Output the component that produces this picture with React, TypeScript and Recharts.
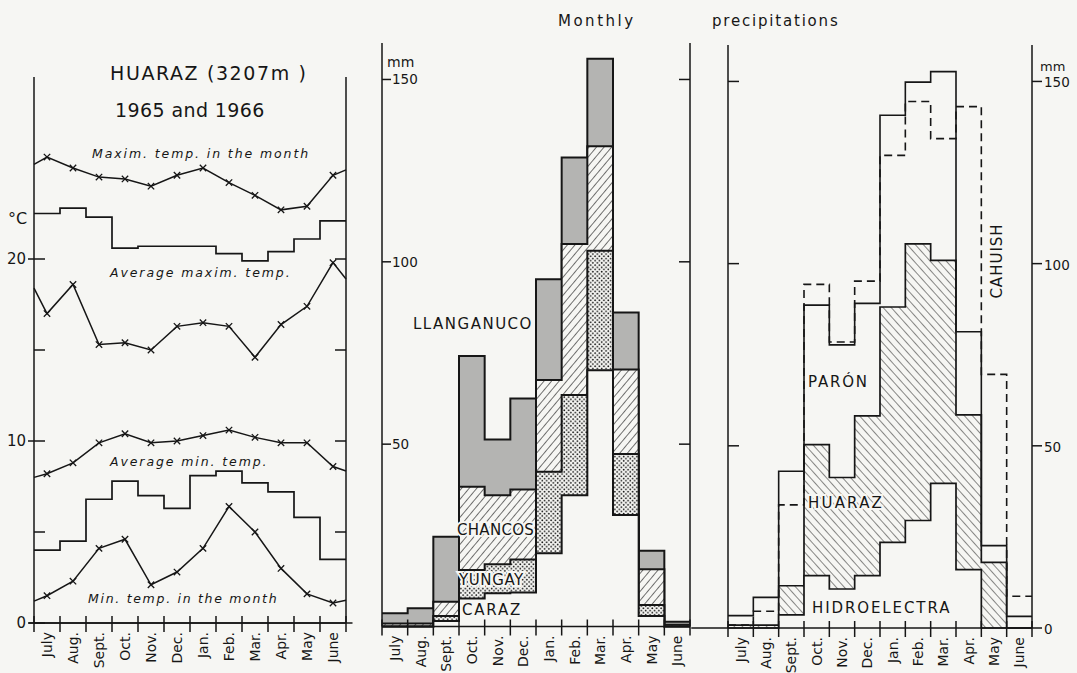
import React from "react";
import { ComposedChart, Line, Area, XAxis, YAxis, ReferenceLine } from "recharts";

const W = 1077;
const H = 673;
const INK = "#161616";
const PAPER = "#f6f6f3";
const FONT = "DejaVu Sans, sans-serif";

const MONTHS = ["July", "Aug.", "Sept.", "Oct.", "Nov.", "Dec.", "Jan.", "Feb.", "Mar.", "Apr.", "May", "June"];

// Huaraz temperatures, deg C (x-marked lines have a value at each edge too)
const maxInMonth = [25.6, 25.0, 24.5, 24.4, 24.0, 24.6, 25.0, 24.2, 23.5, 22.7, 22.9, 24.6];
const maxInMonthEnds = [25.2, 24.9];
const avgMax = [22.5, 22.8, 22.3, 20.6, 20.7, 20.7, 20.7, 20.3, 19.9, 20.4, 21.1, 22.1];
const upperMid = [17.0, 18.6, 15.3, 15.4, 15.0, 16.3, 16.5, 16.3, 14.6, 16.4, 17.4, 19.8];
const upperMidEnds = [18.4, 18.9];
const avgMin = [8.2, 8.8, 9.9, 10.4, 9.9, 10.0, 10.3, 10.6, 10.2, 9.9, 9.9, 8.6];
const avgMinEnds = [8.0, 8.35];
const lowerStep = [4.0, 4.5, 6.8, 7.8, 7.0, 6.3, 8.1, 8.35, 7.7, 7.2, 5.8, 3.5];
const minInMonth = [1.5, 2.3, 4.1, 4.6, 2.1, 2.8, 4.1, 6.4, 5.0, 3.0, 1.6, 1.1];
const minInMonthEnds = [1.2, 1.25];

// monthly precipitation, mm (middle panel)
const llanganuco = [3.6, 5.0, 24.6, 74.2, 51.3, 62.5, 95.2, 128.6, 155.7, 86.1, 20.8, 1.3];
const chancos = [0.8, 0.8, 6.8, 38.3, 36.0, 37.6, 67.6, 104.9, 131.7, 70.5, 15.7, 0.5];
const yungay = [0, 0, 2.9, 15.5, 17.1, 18.4, 42.4, 63.5, 103.0, 47.3, 5.9, 0];
const caraz = [0, 0, 1.5, 7.7, 9.1, 9.3, 20.1, 36.0, 70.3, 30.6, 2.9, 0];

// monthly precipitation, mm (right panel)
const paron = [3.4, 8.4, 43.0, 88.6, 77.7, 89.1, 140.7, 149.8, 152.7, 81.3, 22.6, 3.2];
const cahuish = [0.8, 4.6, 33.8, 94.3, 78.5, 95.2, 129.7, 144.5, 134.3, 143.1, 69.6, 8.7];
const huaraz = [0.8, 0.8, 11.6, 50.3, 41.3, 58.2, 88.1, 105.4, 100.9, 58.5, 18.0, 0];
const hidroelectra = [0, 0, 3.6, 14.4, 10.7, 14.4, 23.5, 29.5, 39.7, 16.0, 0, 0];

const BOUNDS = Array.from({ length: 13 }, (_, i) => i);
const CENTERS = MONTHS.map((_, i) => i + 0.5);

type Row = { [k: string]: number | undefined };

// one row per month boundary (step series) plus one per month centre (x-marked lines)
function tempRows(): Row[] {
  const rows: Row[] = [];
  for (let i = 0; i <= 12; i++) {
    const j = Math.min(i, 11);
    const r: Row = { x: i, avgMax: avgMax[j], lowerStep: lowerStep[j] };
    if (i === 0 || i === 12) {
      const e = i === 0 ? 0 : 1;
      r.maxIn = maxInMonthEnds[e];
      r.upperMid = upperMidEnds[e];
      r.avgMin = avgMinEnds[e];
      r.minIn = minInMonthEnds[e];
    }
    rows.push(r);
    if (i < 12) {
      rows.push({ x: i + 0.5, maxIn: maxInMonth[i], upperMid: upperMid[i], avgMin: avgMin[i], minIn: minInMonth[i] });
    }
  }
  return rows;
}

function stepRows(series: { [k: string]: number[] }): Row[] {
  return BOUNDS.map((i) => {
    const r: Row = { x: i };
    Object.keys(series).forEach((k) => (r[k] = series[k][Math.min(i, 11)]));
    return r;
  });
}

const tempData = tempRows();
const midData = stepRows({ llanganuco, chancos, yungay, caraz });
const rightData = stepRows({ paron, cahuish, huaraz, hidroelectra });

// plot rectangle -> chart margins (axes take 1px each: 1 left, 1 right, 2 below)
function frame(x0: number, x1: number, y0: number, y1: number) {
  return { left: x0 - 1, right: W - x1 - 1, top: y0, bottom: H - y1 - 2 };
}

const Cross = (p: any) => {
  const { cx, cy, payload, dataKey, index } = p;
  if (cx == null || cy == null || payload[dataKey] == null || payload.x % 1 === 0) return <g key={index} />;
  const s = 3.2;
  return (
    <path
      key={index}
      d={`M${cx - s},${cy - s}L${cx + s},${cy + s}M${cx + s},${cy - s}L${cx - s},${cy + s}`}
      stroke={INK}
      strokeWidth={1.3}
      fill="none"
    />
  );
};

const BoundaryTick = ({ x, y }: any) => (
  <line x1={x} x2={x} y1={y - 7} y2={y + 9} stroke={INK} strokeWidth={1.5} />
);

const MonthTick = ({ x, y, payload }: any) => (
  <text
    transform={`translate(${x},${y + 8}) rotate(-90)`}
    textAnchor="end"
    dominantBaseline="central"
    fontSize={14}
    fontFamily={FONT}
    fill={INK}
  >
    {MONTHS[Math.floor(payload.value)]}
  </text>
);

const TempTickLeft = ({ x, y, payload }: any) => {
  const lab = payload.value % 10 === 0;
  return (
    <g>
      <line x1={lab ? x - 6 : x} x2={x + 11} y1={y} y2={y} stroke={INK} strokeWidth={1.5} />
      {lab && (
        <text x={x - 8} y={y} textAnchor="end" dominantBaseline="central" fontSize={15} fontFamily={FONT} fill={INK}>
          {payload.value}
        </text>
      )}
    </g>
  );
};

const InTickRight = ({ x, y }: any) => <line x1={x - 11} x2={x} y1={y} y2={y} stroke={INK} strokeWidth={1.5} />;
const InTickLeft = ({ x, y }: any) => <line x1={x} x2={x + 11} y1={y} y2={y} stroke={INK} strokeWidth={1.5} />;

const MmTickInside = ({ x, y, payload }: any) => (
  <g>
    <line x1={x} x2={x + 9} y1={y} y2={y} stroke={INK} strokeWidth={1.5} />
    <text x={x + 10} y={y} dominantBaseline="central" fontSize={13.5} fontFamily={FONT} fill={INK}>
      {payload.value}
    </text>
  </g>
);

const MmTickOutside = ({ x, y, payload }: any) => (
  <g>
    <line x1={x} x2={x + 10} y1={y} y2={y} stroke={INK} strokeWidth={1.5} />
    <text x={x + 12} y={y + 1} dominantBaseline="central" fontSize={13.5} fontFamily={FONT} fill={INK}>
      {payload.value}
    </text>
  </g>
);

const axisLine = { stroke: INK, strokeWidth: 1.5 };
const abs: React.CSSProperties = { position: "absolute", left: 0, top: 0 };

function MonthAxes() {
  return [
    <XAxis
      key="b"
      xAxisId="b"
      dataKey="x"
      type="number"
      domain={[0, 12]}
      ticks={BOUNDS}
      interval={0}
      height={1}
      tickSize={0}
      tickMargin={0}
      tickLine={false}
      axisLine={axisLine}
      tick={<BoundaryTick />}
    />,
    <XAxis
      key="m"
      xAxisId="m"
      dataKey="x"
      type="number"
      domain={[0, 12]}
      ticks={CENTERS}
      interval={0}
      height={1}
      tickSize={0}
      tickMargin={0}
      tickLine={false}
      axisLine={false}
      tick={<MonthTick />}
    />,
  ];
}

function TempPanel() {
  return (
    <div style={abs}>
      <ComposedChart width={W} height={H} data={tempData} margin={frame(34, 346, 77, 623)}>
        {MonthAxes()}
        <YAxis yAxisId="l" type="number" domain={[0, 30]} ticks={[0, 5, 10, 15, 20]} width={1} tickSize={0} tickMargin={0}
          tickLine={false} axisLine={axisLine} tick={<TempTickLeft />} interval={0} />
        <YAxis yAxisId="r" dataKey="avgMax" orientation="right" type="number" domain={[0, 30]} ticks={[5, 10, 15, 20]}
          width={1} tickSize={0} tickMargin={0} tickLine={false} axisLine={axisLine} tick={<InTickRight />} interval={0} />
        <ReferenceLine xAxisId="b" yAxisId="l" segment={[{ x: -0.2, y: 0 }, { x: 12.25, y: 0 }]} stroke={INK}
          strokeWidth={1.5} ifOverflow="visible" />
        {["maxIn", "upperMid", "avgMin", "minIn"].map((k) => (
          <Line key={k} xAxisId="b" yAxisId="l" dataKey={k} type="linear" stroke={INK} strokeWidth={1.5}
            connectNulls dot={Cross} activeDot={false} isAnimationActive={false} />
        ))}
        {["avgMax", "lowerStep"].map((k) => (
          <Line key={k} xAxisId="b" yAxisId="l" dataKey={k} type="stepAfter" stroke={INK} strokeWidth={1.7}
            connectNulls dot={false} activeDot={false} isAnimationActive={false} />
        ))}
      </ComposedChart>
    </div>
  );
}

function MiddlePanel() {
  const area = { xAxisId: "b", yAxisId: "l", type: "stepAfter" as const, stroke: INK, strokeWidth: 2, fillOpacity: 1,
    dot: false, activeDot: false, isAnimationActive: false };
  return (
    <div style={abs}>
      <ComposedChart width={W} height={H} data={midData} margin={frame(382, 690, 43, 626.5)}>
        {MonthAxes()}
        <YAxis yAxisId="l" type="number" domain={[0, 160]} ticks={[50, 100, 150]} width={1} tickSize={0} tickMargin={0}
          tickLine={false} axisLine={axisLine} tick={<MmTickInside />} interval={0} />
        <YAxis yAxisId="r" dataKey="llanganuco" orientation="right" type="number" domain={[0, 160]} ticks={[50, 100, 150]}
          width={1} tickSize={0} tickMargin={0} tickLine={false} axisLine={axisLine} tick={<InTickRight />} interval={0} />
        <Area {...area} dataKey="llanganuco" fill="url(#gray)" />
        <Area {...area} dataKey="chancos" fill="url(#hatchUp)" />
        <Area {...area} dataKey="yungay" fill="url(#dots)" />
        <Area {...area} dataKey="caraz" fill={PAPER} />
      </ComposedChart>
    </div>
  );
}

function RightPanel() {
  const area = { xAxisId: "b", yAxisId: "l", type: "stepAfter" as const, stroke: INK, strokeWidth: 1.7, fillOpacity: 1,
    dot: false, activeDot: false, isAnimationActive: false };
  return (
    <div style={abs}>
      <ComposedChart width={W} height={H} data={rightData} margin={frame(728, 1032, 45, 628)}>
        {MonthAxes()}
        <YAxis yAxisId="l" type="number" domain={[0, 160]} ticks={[50, 100, 150]} width={1} tickSize={0} tickMargin={0}
          tickLine={false} axisLine={axisLine} tick={<InTickLeft />} interval={0} />
        <YAxis yAxisId="r" dataKey="paron" orientation="right" type="number" domain={[0, 160]} ticks={[0, 50, 100, 150]}
          width={1} tickSize={0} tickMargin={0} tickLine={false} axisLine={axisLine} tick={<MmTickOutside />} interval={0} />
        <ReferenceLine xAxisId="b" yAxisId="l" segment={[{ x: -1.45, y: 0 }, { x: 0, y: 0 }]} stroke={INK}
          strokeWidth={1.5} ifOverflow="visible" />
        <Area {...area} dataKey="huaraz" fill="url(#hatchDown)" />
        <Area {...area} dataKey="hidroelectra" fill={PAPER} />
        <Line xAxisId="b" yAxisId="l" dataKey="paron" type="stepAfter" stroke={INK} strokeWidth={1.6}
          dot={false} activeDot={false} isAnimationActive={false} />
        <Line xAxisId="b" yAxisId="l" dataKey="cahuish" type="stepAfter" stroke={INK} strokeWidth={1.6}
          strokeDasharray="8 5" dot={false} activeDot={false} isAnimationActive={false} />
      </ComposedChart>
    </div>
  );
}

const T = (p: any) => {
  const { x, y, children, size = 15, italic, ls = 0, knock, rotate, anchor = "start" } = p;
  return (
    <text
      x={rotate ? 0 : x}
      y={rotate ? 0 : y}
      transform={rotate ? `translate(${x},${y}) rotate(-90)` : undefined}
      textAnchor={anchor}
      dominantBaseline="central"
      fontSize={size}
      fontStyle={italic ? "italic" : "normal"}
      letterSpacing={ls}
      fontFamily={FONT}
      fill={INK}
      stroke={knock ? PAPER : "none"}
      strokeWidth={knock ? 4 : 0}
      paintOrder="stroke"
    >
      {children}
    </text>
  );
};

function Labels() {
  return (
    <svg width={W} height={H} style={abs}>
      <T x={558} y={21} size={15} ls={2.5}>Monthly</T>
      <T x={712} y={21} size={15} ls={1.8}>precipitations</T>

      <T x={110} y={73} size={19} ls={1.6}>HUARAZ (3207m )</T>
      <T x={115} y={110} size={19} ls={0.4}>1965 and 1966</T>
      <T x={8} y={218} size={16}>°C</T>
      <T x={92} y={153} size={12.5} italic ls={1.9}>Maxim. temp. in the month</T>
      <T x={110} y={272} size={12.5} italic ls={1.9}>Average maxim. temp.</T>
      <T x={110} y={461} size={12.5} italic ls={1.9}>Average min. temp.</T>
      <T x={88} y={598} size={12.5} italic ls={1.7}>Min. temp. in the month</T>

      <T x={387} y={62} size={14}>mm</T>
      <T x={413} y={324} size={15} ls={1.5}>LLANGANUCO</T>
      <T x={457} y={530} size={15} ls={0.3} knock>CHANCOS</T>
      <T x={459} y={580} size={15} ls={0.6} knock>YUNGAY</T>
      <T x={462} y={610} size={15} ls={1.8}>CARAZ</T>

      <T x={1040} y={66} size={13}>mm</T>
      <T x={808} y={382} size={15} ls={1.8}>PARÓN</T>
      <T x={808} y={503} size={15} ls={2.2} knock>HUARAZ</T>
      <T x={812} y={608} size={15} ls={1.9}>HIDROELECTRA</T>
      <T x={997} y={261} size={15} ls={1} rotate anchor="middle" knock>CAHUISH</T>
    </svg>
  );
}

export default function App() {
  return (
    <div style={{ position: "absolute", left: 0, top: 0, width: W, height: H, background: PAPER, overflow: "hidden" }}>
      <svg width={0} height={0} style={{ position: "absolute" }}>
        <defs>
          <pattern id="gray" patternUnits="userSpaceOnUse" width={6} height={6}>
            <rect width={6} height={6} fill="#b4b4b2" />
          </pattern>
          <pattern id="hatchUp" patternUnits="userSpaceOnUse" width={5.8} height={5.8} patternTransform="rotate(40)">
            <rect width={5.8} height={5.8} fill={PAPER} />
            <line x1={0} y1={0} x2={0} y2={5.8} stroke={INK} strokeWidth={1.2} />
          </pattern>
          <pattern id="hatchDown" patternUnits="userSpaceOnUse" width={6} height={6} patternTransform="rotate(-42)">
            <rect width={6} height={6} fill={PAPER} />
            <line x1={0} y1={0} x2={0} y2={6} stroke={INK} strokeWidth={1} />
          </pattern>
          <pattern id="dots" patternUnits="userSpaceOnUse" width={4.4} height={4.4}>
            <rect width={4.4} height={4.4} fill={PAPER} />
            <circle cx={1.1} cy={1.1} r={0.9} fill={INK} />
            <circle cx={3.3} cy={3.3} r={0.9} fill={INK} />
          </pattern>
        </defs>
      </svg>
      <TempPanel />
      <MiddlePanel />
      <RightPanel />
      <Labels />
    </div>
  );
}
